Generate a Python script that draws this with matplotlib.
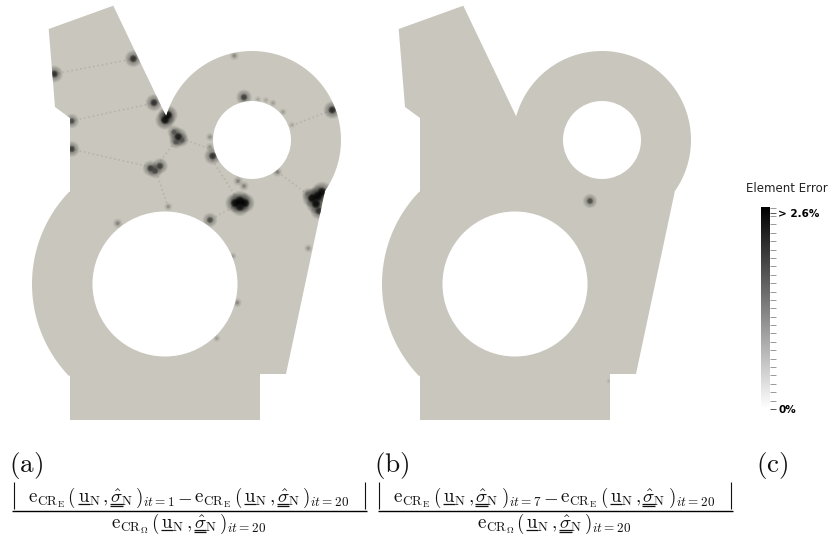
"""Element error maps on the plate, two iterations side by side, with a grey scale."""

import matplotlib

matplotlib.use("Agg")

import matplotlib.pyplot as plt
import numpy as np
from matplotlib.cm import ScalarMappable
from matplotlib.colors import LinearSegmentedColormap, Normalize
from matplotlib.patches import Circle, Polygon
from matplotlib.ticker import FixedLocator

plt.rcParams["mathtext.fontset"] = "cm"

# plate outline, in picture pixels for panel (a)
corner_x = [48.7, 113.3, 166.0]
corner_y = [29.0, 5.7, 116.0]
tail_x = [286.0, 260.0, 260.0, 70.0, 70.0]
tail_y = [374.0, 374.0, 420.0, 420.0, 375.0]
head_x = [70.0, 70.0, 55.0]
head_y = [192.0, 118.0, 107.0]
upper_ring = (252.0, 140.0, 89.0, 39.0)
lower_ring = (165.0, 284.0, 133.0, 72.5)
panel_shift = 350.0

# error hot spots, panel (a)
spots_a_x = [133.3, 54.3, 234.3, 154.0, 165.0, 168.0, 244.0, 332.3, 71.7, 71.7,
             178.3, 174.0, 182.0, 176.0, 212.7, 150.5, 160.0, 155.0,
             277.3, 235.0, 240.0, 245.0, 240.0, 238.0, 244.0,
             312.0, 318.0, 322.0, 316.0, 319.0, 308.0,
             210.0, 168.3, 117.7, 308.3, 233.0, 237.3, 216.7,
             258.0, 266.0, 273.0, 283.0, 292.0, 210.0, 210.0]
spots_a_y = [58.7, 74.0, 55.7, 102.7, 120.0, 115.0, 97.3, 110.0, 121.0, 149.0,
             136.7, 132.0, 140.0, 142.0, 156.0, 168.3, 166.0, 171.0,
             172.0, 203.0, 201.0, 203.0, 207.0, 181.0, 186.0,
             198.0, 196.0, 192.0, 204.0, 211.0, 194.0,
             220.0, 206.7, 223.3, 248.3, 256.0, 302.7, 338.3,
             99.3, 100.0, 103.0, 112.0, 125.0, 137.0, 147.0]
spots_a_err = [2.2, 2.2, 0.9, 2.2, 2.6, 2.6, 2.0, 2.3, 1.8, 2.0,
               2.4, 1.6, 1.6, 1.6, 2.2, 2.0, 2.0, 1.8,
               1.0, 2.6, 2.8, 2.6, 2.4, 1.0, 1.0,
               2.6, 2.8, 2.8, 2.6, 2.2, 1.4,
               1.8, 0.8, 1.0, 0.8, 0.6, 0.9, 0.6,
               0.5, 0.5, 0.6, 0.6, 0.5, 0.8, 0.8]

# error hot spots, panel (b)
spots_b_x = [590.0, 609.0]
spots_b_y = [201.0, 381.0]
spots_b_err = [1.8, 0.3]

# faint seams between the spots, panel (a)
seams = [
    ((54, 133), (74, 59)),
    ((71, 154), (121, 103)),
    ((71, 155), (149, 168)),
    ((155, 178), (168, 138)),
    ((178, 212), (137, 150)),
    ((155, 168), (168, 207)),
    ((212, 240), (160, 203)),
    ((240, 210), (203, 220)),
    ((296, 332), (124, 110)),
    ((278, 315), (172, 200)),
]

scale_max = 2.6
scale_minor = [0.108 * k for k in range(25)]

BASE = "#c9c7bd"
INK = "#111111"
MATH_SIZE = 13.6
field_cmap = LinearSegmentedColormap.from_list("field", [BASE, "#000000"])
norm = Normalize(0, scale_max)


def plate_vertices(shift):
    """Outline of the plate as one closed polygon."""
    cx, cy, r, _ = upper_ring
    t1 = np.radians(np.linspace(-164, 35, 120))
    cx2, cy2, r2, _ = lower_ring
    t2 = np.radians(np.linspace(136, 224, 80))
    x = np.concatenate([corner_x, cx + r * np.cos(t1), tail_x, cx2 + r2 * np.cos(t2), head_x])
    y = np.concatenate([corner_y, cy + r * np.sin(t1), tail_y, cy2 + r2 * np.sin(t2), head_y])
    return np.column_stack([x + shift, y])


def draw_spots(ax, clip, xs, ys, errs):
    """Each spot is a stack of translucent discs, wide and pale to small and dark."""
    errs = np.asarray(errs)
    for frac in np.linspace(3.2, 0.7, 12):
        radius = frac * (0.6 + 0.95 * errs)
        alpha = 0.05 if frac > 1.6 else 0.3
        pts = ax.scatter(xs, ys, s=(radius * 0.72 * 2) ** 2, c=errs, cmap=field_cmap, norm=norm,
                         alpha=alpha, linewidths=0, zorder=3)
        pts.set_clip_path(clip)


def term_pieces(dom, it):
    """Pieces of one e_CR(u, sigma) term: text and number of rules under its first glyph."""
    return [
        (rf"$\mathrm{{e}}_{{\mathrm{{CR}}_{{\mathrm{{{dom}}}}}}}$", None, 0),
        (r"$($", None, 0),
        (r"$\mathrm{u}_{\mathrm{N}}$", r"$\mathrm{u}$", 1),
        (r"$,$", None, 0),
        (r"$\hat{\sigma}_{\mathrm{N}}$", r"$\hat{\sigma}$", 2),
        (rf"$)_{{it={it}}}$", None, 0),
    ]


def piece_width(ax, renderer, s):
    t = ax.text(0, 0, s, fontsize=MATH_SIZE)
    width = t.get_window_extent(renderer).width
    t.remove()
    return width


def layout_line(ax, renderer, pieces, center, baseline):
    """Set the pieces left to right around center; underlines are drawn as rules."""
    gaps = [piece_width(ax, renderer, p[0]) + 2.0 for p in pieces]
    x = center - sum(gaps) / 2
    for (s, under, rules), gap in zip(pieces, gaps):
        ax.text(x, baseline, s, fontsize=MATH_SIZE, ha="left", va="baseline", color=INK)
        if rules:
            w = piece_width(ax, renderer, under)
            for k in range(rules):
                ax.plot([x, x + w], [baseline + 1.8 + 1.9 * k] * 2, color=INK, lw=0.9,
                        solid_capstyle="butt")
        x += gap


fig = plt.figure(figsize=(8.3, 5.42), dpi=100)
ax = fig.add_axes([0, 0, 1, 1])
ax.set_xlim(0, 830)
ax.set_ylim(542, 0)
ax.axis("off")
renderer = fig.canvas.get_renderer()

for shift in (0.0, panel_shift):
    plate = Polygon(plate_vertices(shift), closed=True, facecolor=BASE, edgecolor="none", zorder=1)
    ax.add_patch(plate)
    if shift == 0.0:
        for sx, sy in seams:
            line, = ax.plot(sx, sy, color="#8b897f", lw=1.2, ls=":", alpha=0.3, zorder=2)
            line.set_clip_path(plate)
        draw_spots(ax, plate, spots_a_x, spots_a_y, spots_a_err)
    else:
        draw_spots(ax, plate, spots_b_x, spots_b_y, spots_b_err)
    for cx, cy, _, hole in (upper_ring, lower_ring):
        ax.add_patch(Circle((cx + shift, cy), hole, facecolor="white", edgecolor="none", zorder=4))

# panel letters and captions
for x, label in [(9, "(a)"), (374, "(b)"), (756, "(c)")]:
    ax.text(x, 472, rf"$\mathrm{{{label}}}$", fontsize=19.5, ha="left", va="baseline", color=INK)

for cx, first in [(189.5, 1), (555, 7)]:
    top = term_pieces("E", first) + [(r"$-$", None, 0)] + term_pieces("E", 20)
    layout_line(ax, renderer, top, cx, 502.5)
    layout_line(ax, renderer, term_pieces(r"\Omega", 20), cx, 528.5)
    ax.plot([cx - 177.5, cx + 177.5], [510.7, 510.7], color="black", lw=1.0, solid_capstyle="butt")
    for bx in (cx - 176, cx + 175.5):
        ax.plot([bx, bx], [481.5, 508.5], color=INK, lw=0.8, solid_capstyle="butt")

# colour scale
ax.text(787, 188, "Element Error", fontsize=8.5, ha="center", va="center", color="#222222")
cax = fig.add_axes([761 / 830, 1 - 409 / 542, 9 / 830, 202 / 542])
bar = fig.colorbar(ScalarMappable(norm=Normalize(0, scale_max), cmap="gray_r"), cax=cax)
bar.outline.set_visible(False)
bar.set_ticks([0, 2.52], labels=["0%", "> 2.6%"])
bar.ax.yaxis.set_minor_locator(FixedLocator(scale_minor))
bar.ax.tick_params(which="major", length=4, width=0.7, color="#555555", labelsize=7.5, pad=2)
bar.ax.tick_params(which="minor", length=4, width=0.6, color="#888888")
for tick in bar.ax.get_yticklabels():
    tick.set_fontweight("bold")

fig.savefig("out.png", dpi=100, facecolor="white")
